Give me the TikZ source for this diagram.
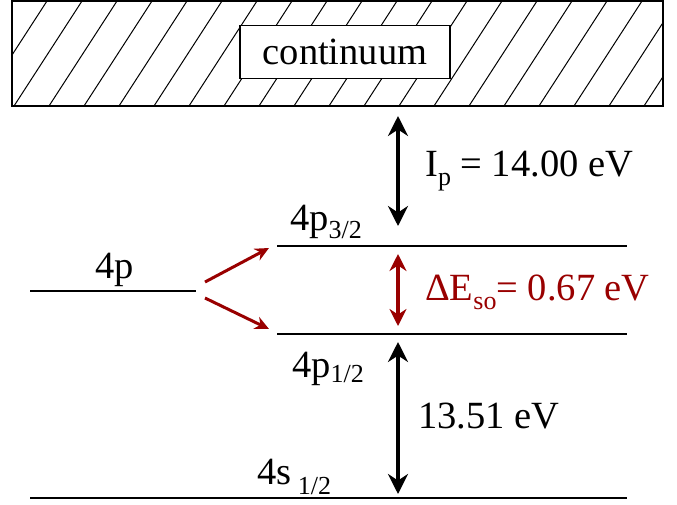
\documentclass[tikz,border=0pt]{standalone}
\usepackage{fontspec}
\setmainfont{Liberation Serif}
\usepackage{tikz}
\usetikzlibrary{arrows.meta,positioning}
\definecolor{darkredx}{HTML}{990000}
\newcommand\subs[2][8pt]{\raisebox{-#1}{\fontsize{26}{28}\selectfont #2}}
\tikzset{
  lvl/.style={line width=1.5pt},
  dbl/.style={{Stealth[length=20pt,width=20pt]}-{Stealth[length=20pt,width=20pt]},line width=4.5pt},
  rdbl/.style={{Stealth[length=17pt,width=17pt]}-{Stealth[length=17pt,width=17pt]},line width=4pt,darkredx},
  split/.style={-{Stealth[length=14pt,width=13pt]},line width=3pt,darkredx},
  lbl/.style={font=\fontsize{38.5}{42}\selectfont,inner sep=0pt,anchor=base west}
}
\begin{document}
\begin{tikzpicture}[x=1pt,y=-1pt]
\useasboundingbox (0,0) rectangle (677,504);
% continuum band
\begin{scope}
\clip (12,1) rectangle (663,106);
\foreach \i in {-3,...,19}
  \draw[line width=1pt] ({\i*35+14},106) -- ++(68,-105);
\end{scope}
\draw[line width=2pt] (12,1) rectangle (663,106);
\node[draw,line width=1.5pt,fill=white,minimum width=210pt,minimum height=53pt,
  font=\fontsize{38.5}{42}\selectfont] (cont) at (345,52) {continuum};
% levels
\coordinate (p4a) at (30,291);   \coordinate (p4b) at (196,291);
\coordinate (p3a) at (277,246);  \coordinate (p3b) at (627,246);
\coordinate (p1a) at (277,334);  \coordinate (p1b) at (627,334);
\coordinate (s1a) at (30,498);   \coordinate (s1b) at (627,498);
\draw[lvl] (p4a) -- (p4b);
\draw[lvl] (p3a) -- (p3b);
\draw[lvl] (p1a) -- (p1b);
\draw[lvl] (s1a) -- (s1b);
\node[lbl] (l4p) at (95,278) {4p};
\node[lbl] (l3) at (290,230) {4p\subs{3/2}};
\node[lbl] (l1) at (292,377) {4p\subs[5pt]{1/2}};
\node[lbl] (l0) at (257,484) {4s\,\subs[10pt]{1/2}};
% splitting
\coordinate (fa) at (205,282); \coordinate (fb) at (205,298);
\coordinate (ta) at (269,248); \coordinate (tb) at (269,329);
\draw[split] (fa) -- (ta);
\draw[split] (fb) -- (tb);
% energy gaps
\draw[dbl] (398,116) -- (398,226);
\draw[rdbl] (398,254) -- (398,326);
\draw[dbl] (398,342) -- (398,494);
\node[lbl] (ip) at (425,176) {I\subs[9pt]{p} = 14.00 eV};
\node[lbl,text=darkredx] (so) at (425,300) {ΔE\subs[9pt]{so}= 0.67 eV};
\node[lbl] (gs) at (418,428) {13.51 eV};
\end{tikzpicture}
\end{document}
